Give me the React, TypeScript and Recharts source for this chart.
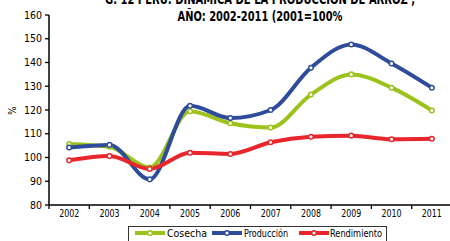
import React from 'react';
import { ComposedChart, Line, XAxis, YAxis, Label } from 'recharts';

const years = ['2002', '2003', '2004', '2005', '2006', '2007', '2008', '2009', '2010', '2011'];
const cosecha = [105.7, 104.5, 95.8, 119.5, 114.4, 112.6, 126.5, 135.0, 129.4, 119.8];
const produccion = [104.2, 105.3, 90.8, 121.8, 116.6, 120.0, 137.8, 147.6, 139.6, 129.4];
const rendimiento = [98.8, 100.6, 95.2, 102.0, 101.5, 106.4, 108.7, 109.2, 107.7, 107.9];
const yTicks = [80, 90, 100, 110, 120, 130, 140, 150, 160];
const seriesNames = ['Cosecha', 'Producción', 'Rendimiento'];
const titleLines = ['G. 12 PERÚ: DINÁMICA DE LA PRODUCCIÓN DE ARROZ ,', 'AÑO: 2002-2011 (2001=100%'];

const data = years.map((y, i) => ({
  year: y,
  cosecha: cosecha[i],
  produccion: produccion[i],
  rendimiento: rendimiento[i],
}));

const GREEN = '#9cc31c';
const BLUE = '#2f4b9c';
const RED = '#e8262b';
const FONT = '"DejaVu Sans Condensed", "Liberation Sans Narrow", sans-serif';
const BAND = 40.3;

const XTick = (props: any) => {
  const { x, y, payload } = props;
  return (
    <g>
      <line x1={x - BAND / 2} x2={x - BAND / 2} y1={y} y2={y + 4} stroke="#000" strokeWidth={1.3} />
      <text x={x} y={y + 12} textAnchor="middle" fontSize={10} fontFamily={FONT} fill="#000" textLength={20} lengthAdjust="spacingAndGlyphs">
        {payload.value}
      </text>
    </g>
  );
};

const dot = (c: string) => ({ r: 2.3, fill: '#fff', stroke: c, strokeWidth: 1.5 });

export default function App() {
  const colors = [GREEN, BLUE, RED];
  const legendX = [
    { lx: 135, tx: 167, w: 40 },
    { lx: 212, tx: 244, w: 44 },
    { lx: 299, tx: 330, w: 52 },
  ];
  return (
    <div style={{ position: 'absolute', left: 0, top: 0, width: 450, height: 241, background: '#fff', overflow: 'hidden' }}>
      <ComposedChart width={454} height={241} data={data} margin={{ top: 15, right: 2, bottom: 6, left: 0 }}>
        <XAxis
          dataKey="year"
          scale="band"
          height={30}
          tickLine={false}
          tickSize={0}
          tickMargin={0}
          tick={<XTick />}
          axisLine={{ stroke: '#000', strokeWidth: 1.5 }}
          interval={0}
        />
        <YAxis
          width={49}
          domain={[80, 160]}
          ticks={yTicks}
          interval={0}
          tickSize={4}
          tickMargin={3}
          tickLine={{ stroke: '#000', strokeWidth: 1.3 }}
          axisLine={{ stroke: '#000', strokeWidth: 1.5 }}
          tick={{ fontSize: 10.5, fontFamily: FONT, fill: '#000' }}
        >
          <Label value="%" angle={-90} position="insideLeft" offset={12} dy={5} style={{ fontSize: 10, fontFamily: FONT, fill: '#000' }} />
        </YAxis>
        <Line type="monotone" dataKey="cosecha" stroke={GREEN} strokeWidth={4} dot={dot(GREEN)} isAnimationActive={false} />
        <Line type="monotone" dataKey="produccion" stroke={BLUE} strokeWidth={4} dot={dot(BLUE)} isAnimationActive={false} />
        <Line type="monotone" dataKey="rendimiento" stroke={RED} strokeWidth={4} dot={dot(RED)} isAnimationActive={false} />
      </ComposedChart>
      <svg width={450} height={241} style={{ position: 'absolute', left: 0, top: 0, pointerEvents: 'none' }}>
        <text x={260} y={4} textAnchor="middle" fontSize={14} fontWeight="bold" fontFamily={FONT} fill="#000" textLength={310} lengthAdjust="spacingAndGlyphs">
          {titleLines[0]}
        </text>
        <text x={260} y={21} textAnchor="middle" fontSize={14} fontWeight="bold" fontFamily={FONT} fill="#000" textLength={165} lengthAdjust="spacingAndGlyphs">
          {titleLines[1]}
        </text>
        <rect x={128.5} y={226.5} width={258} height={20} fill="#fff" stroke="#333" strokeWidth={1} />
        {seriesNames.map((name, i) => (
          <g key={name}>
            <line x1={legendX[i].lx} x2={legendX[i].lx + 30} y1={233} y2={233} stroke={colors[i]} strokeWidth={4} />
            <circle cx={legendX[i].lx + 15} cy={233} r={2.3} fill="#fff" stroke={colors[i]} strokeWidth={1.5} />
            <text x={legendX[i].tx} y={237} fontSize={11} fontFamily={FONT} fill="#000" textLength={legendX[i].w} lengthAdjust="spacingAndGlyphs">
              {name}
            </text>
          </g>
        ))}
      </svg>
    </div>
  );
}
